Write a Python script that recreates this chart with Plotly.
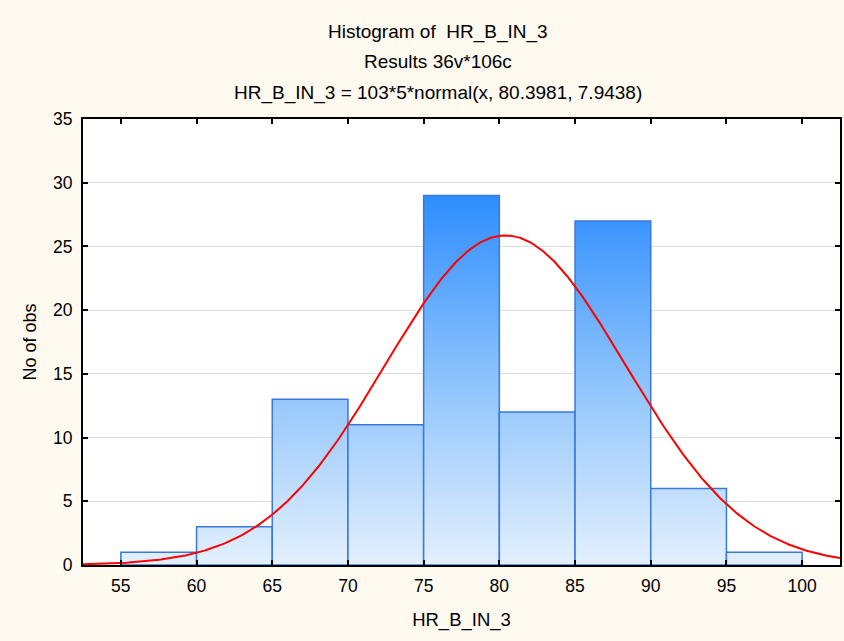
import numpy as np
import plotly.graph_objects as go

bin_left = [55, 60, 65, 70, 75, 80, 85, 90, 95]
bin_width = 5
counts = [1, 3, 13, 11, 29, 12, 27, 6, 1]
n_obs = 103
mu = 80.3981
sigma = 7.9438
x_ticks = [55, 60, 65, 70, 75, 80, 85, 90, 95, 100]
y_ticks = [0, 5, 10, 15, 20, 25, 30, 35]
title_lines = ["Histogram of  HR_B_IN_3", "Results 36v*106c",
               "HR_B_IN_3 = 103*5*normal(x, 80.3981, 7.9438)"]

fig = go.Figure()
for l, c in zip(bin_left, counts):
    r = l + bin_width
    fig.add_trace(go.Scatter(
        x=[l, l, r, r, l], y=[0, c, c, 0, 0], mode="lines",
        fill="toself",
        fillgradient=dict(type="vertical", start=0, stop=29,
                          colorscale=[[0, "#E3F0FD"], [0.5, "#8DC3FC"], [1, "#2E8DFF"]]),
        line=dict(color="#3A78DA", width=1.5),
        showlegend=False, hoverinfo="skip"))

xc = np.linspace(52.5, 102.5, 400)
yc = n_obs * bin_width * np.exp(-0.5 * ((xc - mu) / sigma) ** 2) / (sigma * np.sqrt(2 * np.pi))
fig.add_trace(go.Scatter(x=xc, y=yc, mode="lines", line=dict(color="#FF0000", width=2),
                         showlegend=False, hoverinfo="skip"))

font = "Liberation Sans, Arial, sans-serif"
fig.update_layout(
    width=844, height=641,
    margin=dict(l=83, r=2, t=119, b=76),
    paper_bgcolor="#FEFAF0", plot_bgcolor="#FFFFFF",
    font=dict(family=font, size=17.5, color="#000000"),
    xaxis=dict(range=[52.5, 102.5], tickvals=x_ticks, showgrid=False, zeroline=False,
               showline=True, linecolor="#000000", linewidth=2, mirror="allticks",
               ticks="inside", ticklen=5, tickcolor="#000000", tickwidth=1.5,
               tickfont=dict(family=font, size=17.5, color="#000000"),
               title=dict(text="HR_B_IN_3", standoff=18, font=dict(family=font, size=18.5)),
               ticklabelstandoff=4),
    yaxis=dict(range=[0, 35], tickvals=y_ticks, showgrid=True, gridcolor="#DCDCDC",
               zeroline=False, showline=True, linecolor="#000000", linewidth=2,
               mirror="allticks", ticks="inside", ticklen=5, tickcolor="#000000", tickwidth=1.5,
               tickfont=dict(family=font, size=17.5, color="#000000"), ticklabelstandoff=5,
               title=dict(text="No of obs", standoff=12, font=dict(family=font, size=18))),
)
for txt, ypx in zip(title_lines, [32, 62, 93]):
    fig.add_annotation(text=txt, xref="paper", yref="paper", x=(439 - 83) / 759,
                       y=1 + (119 - ypx) / 446, showarrow=False, yanchor="middle",
                       xanchor="center", font=dict(family=font, size=19, color="#000000"))

fig.write_html("out.html")
